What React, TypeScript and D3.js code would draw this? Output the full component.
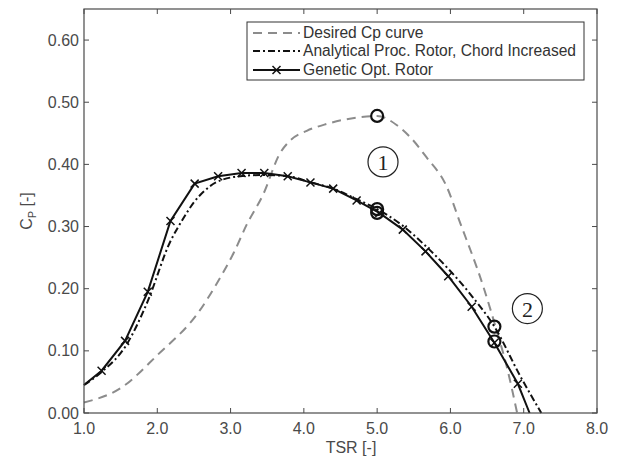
import React, { useEffect, useRef } from "react";
import * as d3 from "d3";

// desired Cp curve (grey dashed)
const desiredTsr = [1.0, 1.5, 2.0, 2.58, 2.81, 3.04, 3.22, 3.45, 3.67, 3.81, 4.04, 4.31, 4.77, 5.0, 5.27, 5.45, 5.67, 5.95, 6.12, 6.45, 6.63, 6.77, 6.91];
const desiredCp = [0.017, 0.04, 0.093, 0.165, 0.208, 0.257, 0.303, 0.353, 0.417, 0.438, 0.454, 0.465, 0.476, 0.478, 0.463, 0.444, 0.412, 0.364, 0.31, 0.203, 0.133, 0.074, 0.0];

// analytical procedure rotor, chord increased (dash-dot)
const analyticalTsr = [1.0, 1.25, 1.57, 1.87, 2.17, 2.35, 2.5, 2.65, 2.8, 3.13, 3.45, 3.78, 4.1, 4.4, 4.72, 5.0, 5.33, 5.65, 5.97, 6.3, 6.6, 6.95, 7.24];
const analyticalCp = [0.045, 0.067, 0.108, 0.18, 0.274, 0.312, 0.339, 0.358, 0.371, 0.381, 0.383, 0.381, 0.371, 0.361, 0.344, 0.328, 0.303, 0.27, 0.232, 0.187, 0.139, 0.06, 0.0];

// genetic optimised rotor (solid, x markers)
const geneticTsr = [1.0, 1.24, 1.56, 1.87, 2.18, 2.51, 2.83, 3.15, 3.46, 3.78, 4.09, 4.4, 4.72, 5.03, 5.35, 5.66, 5.97, 6.29, 6.6, 6.92, 7.08];
const geneticCp = [0.045, 0.068, 0.116, 0.195, 0.309, 0.369, 0.381, 0.386, 0.386, 0.381, 0.371, 0.361, 0.342, 0.322, 0.295, 0.26, 0.22, 0.171, 0.113, 0.047, 0.0];
const geneticMarked = [false, true, true, true, true, true, true, true, true, true, true, true, true, true, true, true, true, true, true, true, false];

// highlighted operating points
const circleTsr = [5.0, 5.0, 5.0, 6.6, 6.6];
const circleCp = [0.478, 0.328, 0.322, 0.139, 0.115];

// numbered annotations
const noteLabels = ["1", "2"];
const noteTsr = [5.08, 7.05];
const noteCp = [0.404, 0.168];

const xTicks = [1, 2, 3, 4, 5, 6, 7, 8];
const yTicks = [0, 0.1, 0.2, 0.3, 0.4, 0.5, 0.6];

const legendLabels = ["Desired Cp curve", "Analytical Proc. Rotor, Chord Increased", "Genetic Opt. Rotor"];

function App() {
  const svgRef = useRef<SVGSVGElement>(null);

  useEffect(() => {
    const width = 622;
    const height = 461;
    const margin = { top: 9, right: 25, bottom: 48, left: 84 };
    const font = "'Liberation Sans', Arial, Helvetica, sans-serif";
    const grey = "#4a4a4a";

    const svg = d3.select(svgRef.current);
    svg.selectAll("*").remove();

    const x = d3.scaleLinear().domain([1, 8]).range([margin.left, width - margin.right]);
    const y = d3.scaleLinear().domain([0, 0.65]).range([height - margin.bottom, margin.top]);

    const x0 = x.range()[0], x1 = x.range()[1];
    const y0 = y.range()[0], y1 = y.range()[1];

    svg.append("rect").attr("width", width).attr("height", height).attr("fill", "#fff");

    // ticks on all four sides, pointing inward
    const tl = 5;
    const ticks = svg.append("g").attr("stroke", grey).attr("stroke-width", 1);
    xTicks.forEach((t) => {
      ticks.append("line").attr("x1", x(t)).attr("x2", x(t)).attr("y1", y0).attr("y2", y0 - tl);
      ticks.append("line").attr("x1", x(t)).attr("x2", x(t)).attr("y1", y1).attr("y2", y1 + tl);
    });
    yTicks.forEach((t) => {
      ticks.append("line").attr("x1", x0).attr("x2", x0 + tl).attr("y1", y(t)).attr("y2", y(t));
      ticks.append("line").attr("x1", x1).attr("x2", x1 - tl).attr("y1", y(t)).attr("y2", y(t));
    });

    svg.append("g")
      .selectAll("text")
      .data(xTicks)
      .join("text")
      .attr("x", (d) => x(d))
      .attr("y", y0 + 21)
      .attr("text-anchor", "middle")
      .attr("font-family", font)
      .attr("font-size", 16)
      .attr("fill", grey)
      .text((d) => d3.format(".1f")(d));

    svg.append("g")
      .selectAll("text")
      .data(yTicks)
      .join("text")
      .attr("x", x0 - 5)
      .attr("y", (d) => y(d))
      .attr("dy", "0.35em")
      .attr("text-anchor", "end")
      .attr("font-family", font)
      .attr("font-size", 16)
      .attr("fill", grey)
      .text((d) => d3.format(".2f")(d));

    // axis titles
    svg.append("text")
      .attr("x", 351)
      .attr("y", 453)
      .attr("text-anchor", "middle")
      .attr("font-family", font)
      .attr("font-size", 16)
      .attr("fill", grey)
      .text("TSR [-]");

    const yl = svg.append("text")
      .attr("transform", `translate(32, ${(y0 + y1) / 2}) rotate(-90)`)
      .attr("text-anchor", "middle")
      .attr("font-family", font)
      .attr("font-size", 16)
      .attr("fill", grey);
    yl.append("tspan").text("C");
    yl.append("tspan").attr("font-size", 11).attr("dy", 4).text("P");
    yl.append("tspan").attr("dy", -4).text(" [-]");

    const plot = svg.append("g");

    const desired = desiredTsr.map((t, i) => [t, desiredCp[i]] as [number, number]);
    const analytical = analyticalTsr.map((t, i) => [t, analyticalCp[i]] as [number, number]);
    const genetic = geneticTsr.map((t, i) => [t, geneticCp[i]] as [number, number]);

    const smooth = d3.line<[number, number]>()
      .x((d) => x(d[0]))
      .y((d) => y(d[1]))
      .curve(d3.curveMonotoneX);
    const straight = d3.line<[number, number]>()
      .x((d) => x(d[0]))
      .y((d) => y(d[1]));

    plot.append("path")
      .attr("d", smooth(desired))
      .attr("fill", "none")
      .attr("stroke", "#8c8c8c")
      .attr("stroke-width", 2)
      .attr("stroke-dasharray", "9,6");

    plot.append("path")
      .attr("d", smooth(analytical))
      .attr("fill", "none")
      .attr("stroke", "#111")
      .attr("stroke-width", 2)
      .attr("stroke-dasharray", "7,3,2,3");

    plot.append("path")
      .attr("d", straight(genetic))
      .attr("fill", "none")
      .attr("stroke", "#111")
      .attr("stroke-width", 2);

    const cross = (g: any, cx: number, cy: number, s: number) => {
      g.append("path")
        .attr("d", `M${cx - s},${cy - s}L${cx + s},${cy + s}M${cx - s},${cy + s}L${cx + s},${cy - s}`)
        .attr("stroke", "#111")
        .attr("stroke-width", 1.5)
        .attr("fill", "none");
    };
    const markers = plot.append("g");
    genetic.forEach((d, i) => {
      if (geneticMarked[i]) cross(markers, x(d[0]), y(d[1]), 4);
    });

    plot.append("g")
      .selectAll("circle")
      .data(circleTsr)
      .join("circle")
      .attr("cx", (d) => x(d))
      .attr("cy", (_, i) => y(circleCp[i]))
      .attr("r", 6)
      .attr("fill", "none")
      .attr("stroke", "#111")
      .attr("stroke-width", 2.2);

    noteLabels.forEach((lab, i) => {
      const cx = x(noteTsr[i]);
      const cy = y(noteCp[i]);
      plot.append("circle")
        .attr("cx", cx).attr("cy", cy).attr("r", 15)
        .attr("fill", "#fff").attr("stroke", "#222").attr("stroke-width", 1.2);
      plot.append("text")
        .attr("x", cx).attr("y", cy)
        .attr("dy", "0.36em")
        .attr("text-anchor", "middle")
        .attr("font-family", "'Liberation Serif', 'DejaVu Serif', serif")
        .attr("font-size", 22)
        .attr("fill", "#222")
        .text(lab);
    });

    // frame
    svg.append("rect")
      .attr("x", x0).attr("y", y1)
      .attr("width", x1 - x0).attr("height", y0 - y1)
      .attr("fill", "none").attr("stroke", grey).attr("stroke-width", 1.2);

    // legend
    const lg = svg.append("g");
    lg.append("rect")
      .attr("x", 247).attr("y", 22).attr("width", 337).attr("height", 58)
      .attr("fill", "#fff").attr("stroke", "#333").attr("stroke-width", 1);
    const rowY = [33, 51, 70];
    const sx0 = 253, sx1 = 300;
    lg.append("line").attr("x1", sx0).attr("x2", sx1).attr("y1", rowY[0]).attr("y2", rowY[0])
      .attr("stroke", "#8c8c8c").attr("stroke-width", 2).attr("stroke-dasharray", "9,6");
    lg.append("line").attr("x1", sx0).attr("x2", sx1).attr("y1", rowY[1]).attr("y2", rowY[1])
      .attr("stroke", "#111").attr("stroke-width", 2).attr("stroke-dasharray", "7,3,2,3");
    lg.append("line").attr("x1", sx0).attr("x2", sx1).attr("y1", rowY[2]).attr("y2", rowY[2])
      .attr("stroke", "#111").attr("stroke-width", 2);
    cross(lg, (sx0 + sx1) / 2, rowY[2], 4);
    lg.selectAll("text.lab")
      .data(legendLabels)
      .join("text")
      .attr("x", 303)
      .attr("y", (_, i) => rowY[i])
      .attr("dy", "0.35em")
      .attr("font-family", font)
      .attr("font-size", 15.6)
      .attr("fill", "#333")
      .text((d) => d);
  }, []);

  return (
    <svg
      ref={svgRef}
      width={622}
      height={461}
      style={{ position: "absolute", left: 0, top: 0 }}
    />
  );
}

export default App;
